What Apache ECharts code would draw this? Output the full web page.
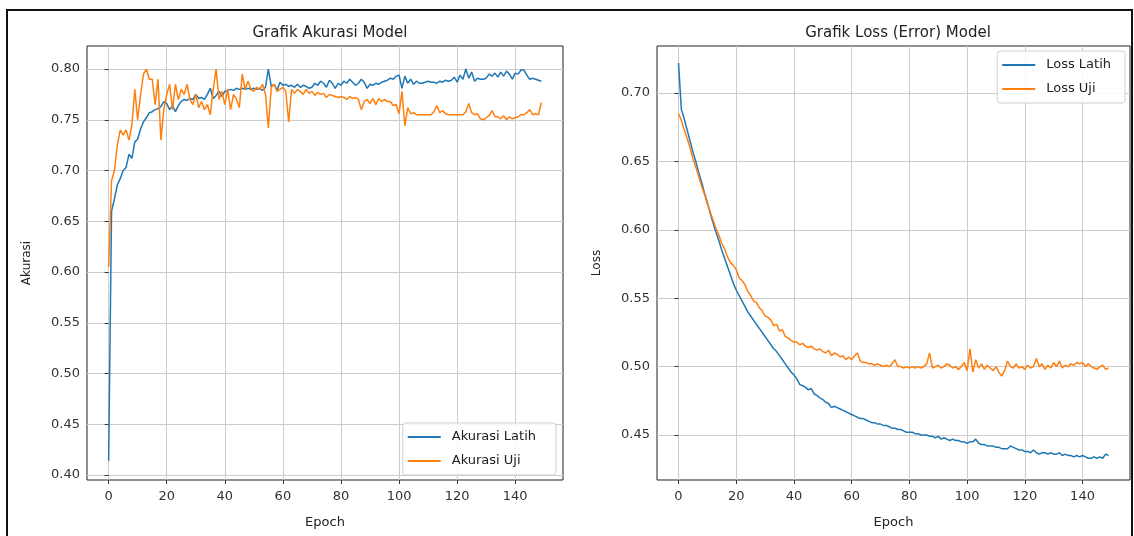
<!DOCTYPE html>
<html lang="id">
<head>
    <meta charset="UTF-8">
    <title>Grafik Akurasi dan Loss Model</title>
    <script src="https://cdn.jsdelivr.net/npm/echarts@6/dist/echarts.min.js"></script>
    <style>
        html, body { margin: 0; padding: 0; background: #fff; }
        #main { width: 1134px; height: 536px; }
    </style>
</head>
<body>
<div id="main"></div>
<script>
    // data per epoch (0..149)
    var akurasiLatih = [
        0.414, 0.660, 0.672, 0.686, 0.692, 0.700, 0.703, 0.716, 0.712, 0.728,
        0.731, 0.741, 0.748, 0.752, 0.757, 0.758, 0.760, 0.761, 0.763, 0.768,
        0.766, 0.760, 0.764, 0.758, 0.764, 0.768, 0.770, 0.769, 0.771, 0.770,
        0.775, 0.771, 0.772, 0.770, 0.775, 0.781, 0.771, 0.774, 0.778, 0.773,
        0.778, 0.779, 0.780, 0.779, 0.781, 0.780, 0.781, 0.780, 0.781, 0.780,
        0.781, 0.780, 0.781, 0.779, 0.782, 0.800, 0.783, 0.785, 0.779, 0.787,
        0.784, 0.785, 0.783, 0.784, 0.782, 0.785, 0.782, 0.784, 0.783, 0.781,
        0.782, 0.786, 0.784, 0.788, 0.786, 0.782, 0.789, 0.786, 0.781, 0.786,
        0.784, 0.788, 0.786, 0.790, 0.787, 0.784, 0.786, 0.790, 0.787, 0.781,
        0.785, 0.784, 0.786, 0.785, 0.787, 0.788, 0.789, 0.791, 0.790, 0.793,
        0.794, 0.781, 0.793, 0.786, 0.790, 0.785, 0.788, 0.786, 0.786, 0.787,
        0.788, 0.787, 0.787, 0.786, 0.788, 0.787, 0.789, 0.788, 0.789, 0.792,
        0.787, 0.794, 0.790, 0.800, 0.791, 0.797, 0.788, 0.791, 0.790, 0.790,
        0.791, 0.795, 0.793, 0.796, 0.792, 0.797, 0.793, 0.798, 0.795, 0.790,
        0.796, 0.795, 0.799, 0.799, 0.794, 0.790, 0.791, 0.790, 0.789, 0.788
    ];
    var akurasiUji = [
        0.605, 0.690, 0.700, 0.725, 0.740, 0.735, 0.740, 0.730, 0.745, 0.780,
        0.750, 0.775, 0.795, 0.800, 0.790, 0.790, 0.765, 0.790, 0.730, 0.760,
        0.775, 0.785, 0.760, 0.785, 0.770, 0.780, 0.775, 0.785, 0.770, 0.765,
        0.775, 0.762, 0.768, 0.760, 0.765, 0.755, 0.780, 0.800, 0.770, 0.778,
        0.765, 0.780, 0.760, 0.775, 0.770, 0.762, 0.795, 0.780, 0.788, 0.780,
        0.778, 0.782, 0.780, 0.785, 0.775, 0.742, 0.782, 0.785, 0.778, 0.780,
        0.782, 0.778, 0.748, 0.780, 0.776, 0.780, 0.778, 0.775, 0.780, 0.776,
        0.778, 0.774, 0.777, 0.775, 0.776, 0.772, 0.775, 0.774, 0.773, 0.772,
        0.773, 0.772, 0.770, 0.773, 0.771, 0.772, 0.770, 0.760, 0.768, 0.770,
        0.766, 0.771, 0.765, 0.771, 0.768, 0.770, 0.768, 0.768, 0.764, 0.765,
        0.756, 0.778, 0.744, 0.762, 0.756, 0.757, 0.755, 0.755, 0.755, 0.755,
        0.755, 0.755, 0.758, 0.764, 0.757, 0.759, 0.756, 0.755, 0.755, 0.755,
        0.755, 0.755, 0.755, 0.758, 0.766, 0.757, 0.755, 0.756, 0.751, 0.750,
        0.752, 0.754, 0.759, 0.753, 0.753, 0.751, 0.754, 0.750, 0.753, 0.751,
        0.752, 0.753, 0.755, 0.755, 0.757, 0.760, 0.755, 0.756, 0.755, 0.767
    ];
    var lossLatih = [
        0.722, 0.688, 0.681, 0.673, 0.665, 0.657, 0.650, 0.642, 0.635, 0.627,
        0.620, 0.612, 0.605, 0.598, 0.592, 0.585, 0.579, 0.573, 0.567, 0.561,
        0.556, 0.552, 0.548, 0.544, 0.540, 0.537, 0.534, 0.531, 0.528, 0.525,
        0.522, 0.519, 0.516, 0.513, 0.511, 0.508, 0.505, 0.502, 0.499, 0.496,
        0.494, 0.491, 0.487, 0.486, 0.485, 0.483, 0.484, 0.480, 0.479, 0.477,
        0.476, 0.474, 0.473, 0.470, 0.471, 0.470, 0.469, 0.468, 0.467, 0.466,
        0.465, 0.464, 0.463, 0.462, 0.462, 0.461, 0.460, 0.459, 0.459, 0.458,
        0.458, 0.457, 0.457, 0.456, 0.455, 0.455, 0.454, 0.454, 0.453, 0.452,
        0.452, 0.452, 0.451, 0.451, 0.450, 0.450, 0.450, 0.449, 0.449, 0.448,
        0.449, 0.447, 0.448, 0.447, 0.446, 0.447, 0.446, 0.446, 0.445, 0.445,
        0.444, 0.445, 0.445, 0.447, 0.444, 0.443, 0.443, 0.442, 0.442, 0.442,
        0.441, 0.441, 0.440, 0.440, 0.440, 0.442, 0.441, 0.440, 0.439, 0.439,
        0.438, 0.438, 0.437, 0.439, 0.437, 0.436, 0.437, 0.437, 0.436, 0.437,
        0.436, 0.436, 0.437, 0.435, 0.436, 0.435, 0.435, 0.434, 0.435, 0.434,
        0.435, 0.434, 0.433, 0.433, 0.434, 0.433, 0.434, 0.433, 0.436, 0.435
    ];
    var lossUji = [
        0.685, 0.680, 0.673, 0.667, 0.660, 0.652, 0.646, 0.639, 0.632, 0.626,
        0.619, 0.613, 0.607, 0.601, 0.596, 0.590, 0.586, 0.580, 0.576, 0.574,
        0.571, 0.565, 0.563, 0.560, 0.555, 0.552, 0.548, 0.547, 0.543, 0.541,
        0.537, 0.536, 0.534, 0.530, 0.531, 0.526, 0.527, 0.522, 0.521, 0.519,
        0.518, 0.518, 0.516, 0.517, 0.515, 0.514, 0.515, 0.513, 0.512, 0.513,
        0.511, 0.510, 0.512, 0.508, 0.510, 0.509, 0.507, 0.508, 0.505, 0.507,
        0.505, 0.508, 0.510, 0.504, 0.503, 0.503, 0.502, 0.502, 0.501, 0.502,
        0.501, 0.500, 0.501, 0.500, 0.502, 0.505, 0.500, 0.500, 0.499, 0.500,
        0.499, 0.500, 0.499, 0.500, 0.499, 0.500, 0.502, 0.510, 0.499, 0.500,
        0.501, 0.499, 0.500, 0.502, 0.501, 0.499, 0.500, 0.498, 0.500, 0.503,
        0.497, 0.513, 0.496, 0.505, 0.499, 0.502, 0.498, 0.501, 0.499, 0.497,
        0.500, 0.496, 0.493, 0.497, 0.504, 0.500, 0.499, 0.502, 0.499, 0.500,
        0.498, 0.501, 0.499, 0.500, 0.506, 0.500, 0.502, 0.498, 0.501, 0.499,
        0.503, 0.500, 0.504, 0.499, 0.501, 0.500, 0.502, 0.501, 0.503, 0.502,
        0.503, 0.500, 0.502, 0.500, 0.499, 0.498, 0.500, 0.501, 0.498, 0.499
    ];

    var epochTicks = [0, 20, 40, 60, 80, 100, 120, 140];
    var akurasiTicks = [0.40, 0.45, 0.50, 0.55, 0.60, 0.65, 0.70, 0.75, 0.80];
    var lossTicks = [0.45, 0.50, 0.55, 0.60, 0.65, 0.70];

    // pasangan [epoch, nilai]
    function pairs(arr) {
        return arr.map(function (v, i) { return [i, v]; });
    }

    var biru = '#1f77b4';
    var oranye = '#ff7f0e';
    var font = 'DejaVu Sans';

    function xAxisOf(gridIndex) {
        return {
            type: 'value', gridIndex: gridIndex,
            min: -7.45, max: 156.45,
            name: 'Epoch', nameLocation: 'middle', nameGap: 36,
            nameTextStyle: { fontFamily: font, fontSize: 13, color: '#222' },
            axisLine: { show: false },
            axisTick: { show: true, length: 4, inside: false, customValues: epochTicks, lineStyle: { color: '#333' } },
            axisLabel: { customValues: epochTicks, fontFamily: font, fontSize: 13, color: '#333', margin: 10 },
            splitLine: { show: true, lineStyle: { color: '#cccccc', width: 1 } }
        };
    }

    function yAxisOf(gridIndex, name, min, max, ticks, gap) {
        return {
            type: 'value', gridIndex: gridIndex,
            min: min, max: max,
            name: name, nameLocation: 'middle', nameGap: gap,
            nameTextStyle: { fontFamily: font, fontSize: 12, color: '#222' },
            axisLine: { show: false },
            axisTick: { show: true, length: 4, customValues: ticks, lineStyle: { color: '#333' } },
            axisLabel: {
                customValues: ticks, fontFamily: font, fontSize: 13, color: '#333', margin: 7,
                formatter: function (v) { return v.toFixed(2); }
            },
            splitLine: { show: true, lineStyle: { color: '#cccccc', width: 1 } }
        };
    }

    function garis(name, data, color, idx) {
        return {
            name: name, type: 'line', xAxisIndex: idx, yAxisIndex: idx,
            data: pairs(data), showSymbol: false, symbol: 'none',
            lineStyle: { color: color, width: 1.5 }, itemStyle: { color: color },
            z: name.indexOf('Uji') > 0 ? 3 : 2
        };
    }

    var legendCommon = {
        orient: 'vertical', icon: 'rect', itemWidth: 33, itemHeight: 2, itemGap: 10,
        backgroundColor: 'rgba(255,255,255,0.85)', borderColor: '#d0d0d0', borderWidth: 1, borderRadius: 3,
        textStyle: { fontFamily: font, fontSize: 13, color: '#222', padding: [0, 0, 0, 6], lineHeight: 14 }
    };

    var chart = echarts.init(document.getElementById('main'));
    chart.setOption({
        animation: false,
        backgroundColor: '#fff',
        title: [
            { text: 'Grafik Akurasi Model', left: 325, top: 21, textAlign: 'center',
              textStyle: { fontFamily: font, fontSize: 15, fontWeight: 'normal', color: '#222' } },
            { text: 'Grafik Loss (Error) Model', left: 893, top: 21, textAlign: 'center',
              textStyle: { fontFamily: font, fontSize: 15, fontWeight: 'normal', color: '#222' } }
        ],
        legend: [
            Object.assign({}, legendCommon, {
                data: ['Akurasi Latih', 'Akurasi Uji'], right: 578, bottom: 61, padding: [7, 20, 7, 5]
            }),
            Object.assign({}, legendCommon, {
                data: ['Loss Latih', 'Loss Uji'], right: 9, top: 51, padding: [7, 14, 7, 5]
            })
        ],
        grid: [
            { left: 87, top: 46, width: 476, height: 434, show: true, borderColor: '#222', borderWidth: 1, backgroundColor: 'transparent' },
            { left: 657, top: 46, width: 473, height: 434, show: true, borderColor: '#222', borderWidth: 1, backgroundColor: 'transparent' }
        ],
        xAxis: [xAxisOf(0), xAxisOf(1)],
        yAxis: [
            yAxisOf(0, 'Akurasi', 0.3951, 0.8227, akurasiTicks, 54),
            yAxisOf(1, 'Loss', 0.4171, 0.7344, lossTicks, 54)
        ],
        series: [
            garis('Akurasi Latih', akurasiLatih, biru, 0),
            garis('Akurasi Uji', akurasiUji, oranye, 0),
            garis('Loss Latih', lossLatih, biru, 1),
            garis('Loss Uji', lossUji, oranye, 1)
        ],
        graphic: [
            { type: 'rect', shape: { x: 7, y: 10, width: 1125, height: 540 },
              style: { fill: null, stroke: '#111', lineWidth: 2 }, silent: true }
        ]
    });
</script>
</body>
</html>
